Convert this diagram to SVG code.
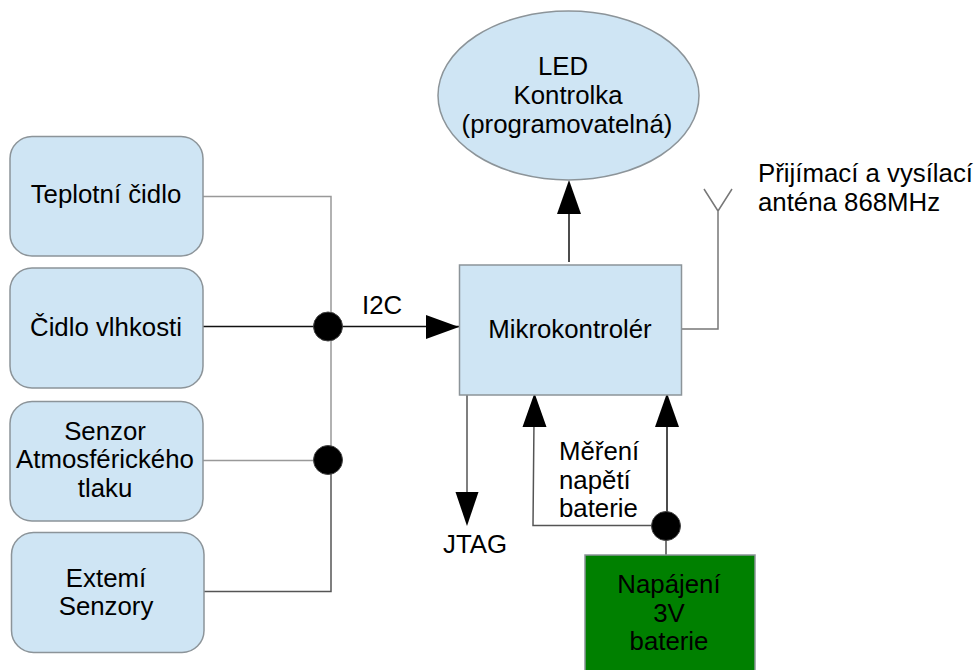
<svg xmlns="http://www.w3.org/2000/svg" width="975" height="670" viewBox="0 0 975 670">
<style>
text{font-family:"Liberation Sans",Arial,sans-serif;font-size:25.800px;fill:#000}
.c{text-anchor:middle}
.n{fill:#cfe5f4;stroke:#8c9499;stroke-width:1.5}
.g{fill:none;stroke:#999;stroke-width:1.5}
.k{fill:none;stroke:#111;stroke-width:1.5}
.d{fill:none;stroke:#555;stroke-width:1.5}
.j{fill:#000;stroke:#444;stroke-width:1}
</style>
<defs>
<path id="up" d="M0 0L-12 34H12Z" fill="#000"/>
</defs>
<rect width="975" height="670" fill="#fff"/>
<g id="connectors">
<path class="g" d="M203 196.500H331V460M203 460.500H328"/>
<path class="k" d="M203 326.500H459"/>
<path class="d" d="M331 460V591.500H204"/>
<path class="k" d="M569 262V200"/>
<use href="#up" x="569" y="180"/>
<path class="g" d="M681 329H718V211M704 189L718 211L732 189" style="stroke:#777"/>
<path d="M459 327L426 315V339Z" fill="#000"/>
<path class="d" d="M467 393V505"/>
<path d="M467 526L455.500 492H478.500Z" fill="#000"/>
<path class="d" d="M534 420L533 525.500H660"/>
<use href="#up" x="534.500" y="393"/>
<path class="k" d="M667 420V520"/>
<use href="#up" x="667" y="393"/>
<path class="g" d="M666 535V555" style="stroke:#777;stroke-width:2"/>
<circle class="j" cx="328" cy="326.500" r="14.500"/>
<circle class="j" cx="328" cy="460" r="14.500"/>
<circle class="j" cx="666" cy="526" r="14.500"/>
</g>
<g id="teplotni"><rect class="n" x="10" y="136.500" width="193" height="119.500" rx="22"/><text class="c" x="106" y="203">Teplotní čidlo</text></g>
<g id="vlhkost"><rect class="n" x="10" y="268" width="193" height="120" rx="22"/><text class="c" x="106" y="336">Čidlo vlhkosti</text></g>
<g id="tlak"><rect class="n" x="10" y="401.500" width="193" height="119.500" rx="22"/><text class="c" x="105" y="440">Senzor</text><text class="c" x="105" y="468">Atmosférického</text><text class="c" x="105" y="497">tlaku</text></g>
<g id="externi"><rect class="n" x="11.500" y="532.500" width="192.500" height="120" rx="22"/><text class="c" x="106" y="587">Extemí</text><text class="c" x="106" y="615">Senzory</text></g>
<g id="led"><ellipse class="n" cx="568.500" cy="95.500" rx="130.500" ry="84.500"/><text class="c" x="563" y="75">LED</text><text class="c" x="568" y="104">Kontrolka</text><text class="c" x="567" y="133">(programovatelná)</text></g>
<g id="mcu"><rect class="n" x="459.500" y="265" width="222" height="130"/><text class="c" x="570" y="338">Mikrokontrolér</text></g>
<g id="baterie"><rect x="585" y="555" width="170" height="125" fill="#008000" stroke="#8c9499" stroke-width="1.500"/><text class="c" x="669" y="593">Napájení</text><text class="c" x="669" y="622">3V</text><text class="c" x="669" y="650">baterie</text></g>
<g id="labels">
<text x="362" y="314">I2C</text>
<text x="758" y="182">Přijímací a vysílací</text>
<text x="758" y="211">anténa 868MHz</text>
<text x="559" y="460">Měření</text>
<text x="559" y="489">napětí</text>
<text x="559" y="517">baterie</text>
<text x="443" y="553">JTAG</text>
</g>
</svg>
